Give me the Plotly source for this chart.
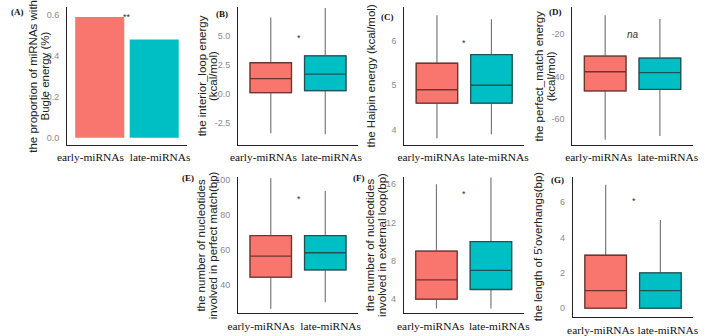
import plotly.graph_objects as go

W, H = 708, 336
groups = ["early-miRNAs", "late-miRNAs"]
fills = ["#F8766D", "#00BFC4"]
borders = ["#6e3530", "#1d5557"]

# Panel A: proportion with bulge energy
bulge_prop = [0.59, 0.48]

# Box stats: [q1, median, q3, lower whisker, upper whisker] per group
interior_loop = {"early-miRNAs": [0.11, 1.31, 2.68, -3.38, 6.57],
                 "late-miRNAs": [0.29, 1.70, 3.27, -3.47, 7.39]}
hairpin = {"early-miRNAs": [4.60, 4.90, 5.49, 3.82, 6.56],
           "late-miRNAs": [4.60, 5.00, 5.68, 3.91, 6.47]}
perfect_energy = {"early-miRNAs": [-46.7, -37.7, -30.4, -69.6, -11.2],
                  "late-miRNAs": [-46.0, -38.1, -31.3, -67.8, -13.0]}
perfect_nt = {"early-miRNAs": [44.2, 56.2, 67.9, 26.2, 100.7],
              "late-miRNAs": [48.3, 58.1, 67.9, 29.9, 93.3]}
external_nt = {"early-miRNAs": [4, 6, 9, 3, 16],
               "late-miRNAs": [5, 7, 10, 3, 16.7]}
overhang = {"early-miRNAs": [0, 1, 3, 0, 7],
            "late-miRNAs": [0, 1, 2, 0, 5]}

# panel layout in pixels: (x0, x1, ytop, ybottom); lx = x-label centres in px
panels = {
    "A": dict(px=(57.5, 180.5, 5, 144), rng=(-0.034, 0.639), tv=[0, 0.2, 0.4, 0.6], tt=["0.0", "0.2", "0.4", "0.6"],
              title=["the proportion of miRNAs with", "Bugle energy (%)"], tx=[22.5, 34.5], lab=(7, 10),
              sig=("**", 119.5, 12), lx=(81.5, 153)),
    "B": dict(px=(233, 356, 5, 144), rng=(-4.37, 7.48), tv=[-2.5, 0, 2.5, 5], tt=["-2.5", "0.0", "2.5", "5.0"],
              title=["the interior_loop energy", "(kcal/mol)"], tx=[195.5, 207.5], lab=(216.5, 12),
              sig=("*", 295, 33), data=interior_loop, lx=(259, 329)),
    "C": dict(px=(403.5, 526.5, 5, 144), rng=(3.675, 6.744), tv=[4, 5, 6], tt=["4", "5", "6"],
              title=["the Haipin energy (kcal/mol)"], tx=[369], lab=(386.7, 15),
              sig=("*", 465, 38), data=hairpin, lx=(431, 500)),
    "D": dict(px=(576, 699.5, 5, 144), rng=(-71.95, -7.3), tv=[-60, -40, -20], tt=["-60", "-40", "-20"],
              title=["the perfect_match energy", "(kcal/mol)"], tx=[541.5, 553.5], lab=(559, 10),
              sig=("na", 638, 33), data=perfect_energy, lx=(603, 674)),
    "E": dict(px=(233, 356, 176.5, 314), rng=(23.6, 101.4), tv=[40, 60, 80, 100], tt=["40", "60", "80", "100"],
              title=["the number of nucleotides", "involved in perfect match(bp)"], tx=[195.5, 207.5], lab=(182, 178),
              sig=("*", 296, 195.7), data=perfect_nt, lx=(256.5, 328)),
    "F": dict(px=(403, 526, 176.5, 314), rng=(2.52, 16.77), tv=[4, 8, 12, 16], tt=["4", "8", "12", "16"],
              title=["the number of nucleotides", "involved in external loop(bp)"], tx=[368.5, 380.5], lab=(357, 178),
              sig=("*", 465, 191), data=external_nt, lx=(430.5, 501)),
    "G": dict(px=(576.5, 700, 176.5, 317.7), rng=(-0.49, 7.44), tv=[0, 2, 4, 6], tt=["0", "2", "4", "6"],
              title=["the length of 5'overhangs(bp)"], tx=[541], lab=(561, 180),
              sig=("*", 639, 198), data=overhang, lx=(605, 674)),
}

fig = go.Figure()
layout = dict(width=W, height=H, margin=dict(l=0, r=0, t=0, b=0), showlegend=False,
              plot_bgcolor="white", paper_bgcolor="white", boxmode="overlay")
annotations = []
pos = [0, 1]

for i, (key, p) in enumerate(panels.items()):
    n = "" if i == 0 else str(i + 1)
    xa, ya = "x" + n, "y" + n
    x0, x1, yt, yb = p["px"]
    ppu = (x1 - x0) / 2.2
    tickpos = [(c - x0) / ppu - 0.6 for c in p["lx"]]
    layout["xaxis" + n] = dict(domain=[x0 / W, x1 / W], anchor=ya, range=[-0.6, 1.6],
                                tickvals=tickpos, ticktext=groups, tickangle=0,
                                showline=True, linecolor="#222", linewidth=1, ticks="", showgrid=False,
                                zeroline=False, tickfont=dict(family="Liberation Serif", size=11.4, color="#111"),
                                ticklabelstandoff=2)
    layout["yaxis" + n] = dict(domain=[1 - yb / H, 1 - yt / H], anchor=xa, range=list(p["rng"]),
                                tickvals=p["tv"], ticktext=p["tt"], showline=True, linecolor="#222", linewidth=1,
                                ticks="", showgrid=False, zeroline=False,
                                tickfont=dict(family="Liberation Sans", size=9, color="#8a8a8a"), ticklabelstandoff=5)
    if key == "A":
        fig.add_trace(go.Bar(x=pos, y=bulge_prop, marker=dict(color=fills, line=dict(width=0)),
                             width=0.9, xaxis=xa, yaxis=ya))
    else:
        d = p["data"]
        for xp, g, fc, bc in zip(pos, groups, fills, borders):
            q1, med, q3, lo, hi = d[g]
            fig.add_trace(go.Box(x=[xp], q1=[q1], median=[med], q3=[q3], lowerfence=[lo], upperfence=[hi],
                                 fillcolor=fc, line=dict(color="#7a7a7a", width=1.2), width=0.76,
                                 whiskerwidth=0, boxpoints=False, xaxis=xa, yaxis=ya, hoverinfo="skip"))
            fig.add_trace(go.Box(x=[xp], q1=[q1], median=[med], q3=[q3], lowerfence=[q1], upperfence=[q3],
                                 fillcolor=fc, line=dict(color=bc, width=1.3), width=0.76,
                                 whiskerwidth=0, boxpoints=False, xaxis=xa, yaxis=ya))
    # y-axis title lines
    cy = (yt + yb) / 2
    for line, tx in zip(p["title"], p["tx"]):
        annotations.append(dict(text=line, x=tx / W, y=1 - cy / H, xref="paper", yref="paper",
                                textangle=-90, showarrow=False, xanchor="center", yanchor="middle",
                                font=dict(family="Liberation Sans", size=11.5, color="#222")))
    # panel label
    lx, ly = p["lab"]
    annotations.append(dict(text="<b>(%s)</b>" % key, x=lx / W, y=1 - ly / H, xref="paper", yref="paper",
                            showarrow=False, xanchor="center", yanchor="middle",
                            font=dict(family="Liberation Serif", size=9, color="#111")))
    # significance
    s, sx, sy = p["sig"]
    if s == "na":
        annotations.append(dict(text="<i>na</i>", x=sx / W, y=1 - sy / H, xref="paper", yref="paper",
                                showarrow=False, xanchor="center", yanchor="middle",
                                font=dict(family="Liberation Sans", size=10, color="#333")))
    else:
        annotations.append(dict(text=s, x=sx / W, y=1 - (sy + 3) / H, xref="paper", yref="paper",
                                showarrow=False, xanchor="center", yanchor="middle",
                                font=dict(family="Liberation Sans", size=9, color="#333")))

layout["annotations"] = annotations
fig.update_layout(**layout)
fig.write_html("out.html", config={"displayModeBar": False},
               post_script="document.body.style.margin='0';document.body.style.overflow='hidden';")
